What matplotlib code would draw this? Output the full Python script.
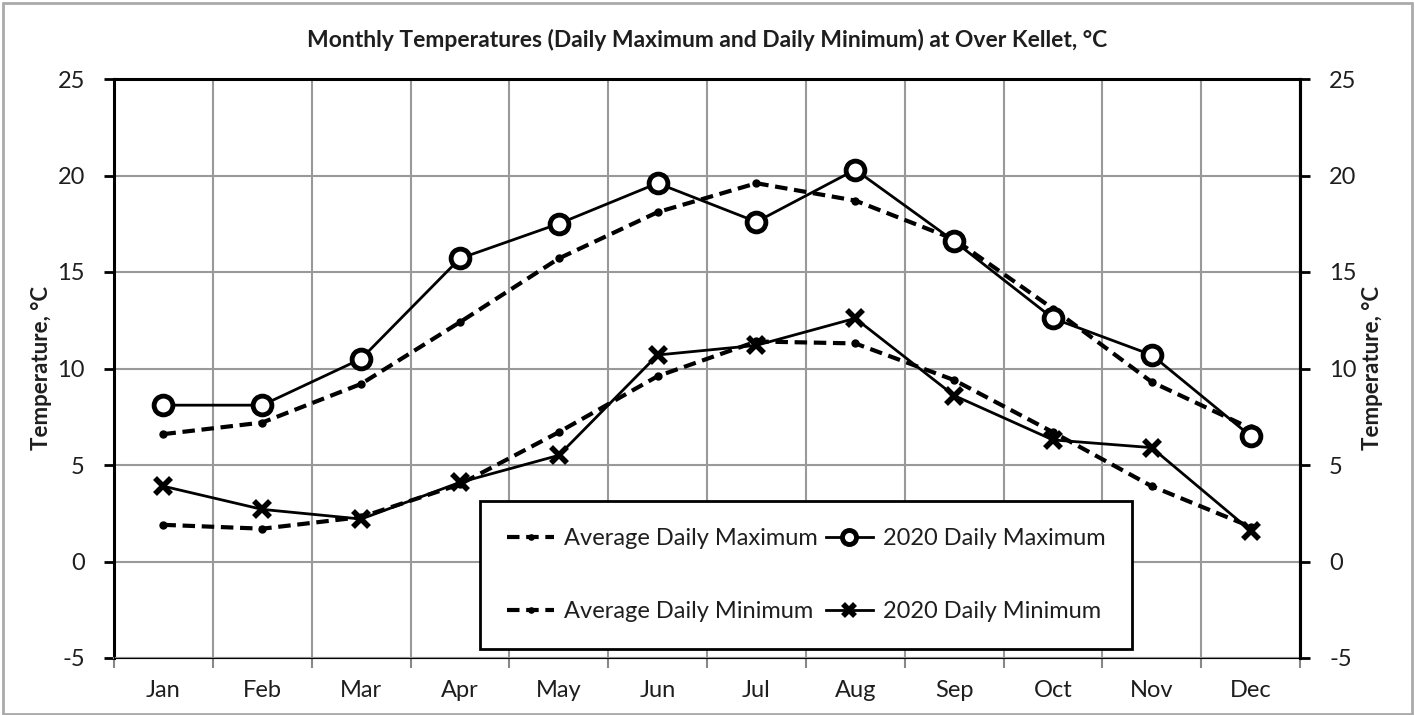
import numpy as np
import matplotlib.pyplot as plt
from matplotlib.patches import Rectangle

months = ['Jan', 'Feb', 'Mar', 'Apr', 'May', 'Jun', 'Jul', 'Aug', 'Sep', 'Oct', 'Nov', 'Dec']
avg_max = [6.6, 7.2, 9.2, 12.4, 15.7, 18.1, 19.6, 18.7, 16.7, 13.1, 9.3, 6.9]
max_2020 = [8.1, 8.1, 10.5, 15.7, 17.5, 19.6, 17.6, 20.3, 16.6, 12.6, 10.7, 6.5]
avg_min = [1.9, 1.7, 2.3, 4.0, 6.7, 9.6, 11.4, 11.3, 9.4, 6.7, 3.9, 1.8]
min_2020 = [3.9, 2.7, 2.2, 4.1, 5.5, 10.7, 11.2, 12.6, 8.6, 6.3, 5.9, 1.6]
y_ticks = [-5, 0, 5, 10, 15, 20, 25]

plt.rcParams['font.family'] = ['Lato', 'DejaVu Sans']
txt = '#1e1e1e'

fig = plt.figure(figsize=(14.15, 7.15), dpi=100)
ax = fig.add_axes([114 / 1415, 1 - 658 / 715, (1300 - 114) / 1415, (658 - 79) / 715])

x = np.arange(len(months))
l_avg_max, = ax.plot(x, avg_max, color='black', lw=3, ls=(0, (3, 1.6)), marker='o', ms=5,
                     label='Average Daily Maximum', zorder=3)
l_max, = ax.plot(x, max_2020, color='black', lw=2, marker='o', ms=13.5, mfc='white', mew=3.5,
                 label='2020 Daily Maximum', zorder=4)
l_avg_min, = ax.plot(x, avg_min, color='black', lw=3, ls=(0, (3, 1.6)), marker='o', ms=5,
                     label='Average Daily Minimum', zorder=3)
l_min, = ax.plot(x, min_2020, color='black', lw=2, marker='x', ms=11, mew=4,
                 label='2020 Daily Minimum', zorder=4)

ax.set_xlim(-0.5, len(months) - 0.5)
ax.set_ylim(-5, 25)
ax.set_xticks(x)
ax.set_xticklabels(months, fontsize=17, color=txt)
ax.set_xticks(np.arange(-0.5, len(months), 1), minor=True)
ax.tick_params(axis='x', which='major', length=0, pad=16)
ax.tick_params(axis='x', which='minor', length=7, width=1.5, color='#888888', direction='out')
ax.set_yticks(y_ticks)
ax.set_yticklabels([str(v) for v in y_ticks], fontsize=17, color=txt)
ax.tick_params(axis='y', length=7, width=2, direction='out', pad=14)
ax.grid(True, which='minor', axis='x', color='#999999', lw=1.5)
ax.grid(True, which='major', axis='y', color='#999999', lw=1.5)
ax.set_axisbelow(True)

for side in ['left', 'right', 'top']:
    ax.spines[side].set_linewidth(2.2)
ax.spines['bottom'].set_color('#999999')
ax.spines['bottom'].set_linewidth(1.5)

ax.set_ylabel('Temperature, °C', fontsize=16, fontweight='bold', color=txt, labelpad=4)

ax2 = ax.twinx()
ax2.set_ylim(-5, 25)
ax2.set_yticks(y_ticks)
ax2.set_yticklabels([str(v) for v in y_ticks], fontsize=17, color=txt)
ax2.tick_params(axis='y', length=7, width=2, direction='out', pad=14)
ax2.spines['right'].set_linewidth(2.2)
ax2.set_ylabel('Temperature, °C', fontsize=16, fontweight='bold', color=txt, rotation=90, labelpad=4)

fig.suptitle('Monthly Temperatures (Daily Maximum and Daily Minimum) at Over Kellet, °C',
             y=1 - 40 / 715, va='center', fontsize=16.5, fontweight='bold', color=txt)

leg = ax.legend(handles=[l_avg_max, l_avg_min, l_max, l_min],
                loc='upper left', bbox_to_anchor=((480 - 114) / (1300 - 114), (658 - 501) / (658 - 79)),
                ncol=2, fontsize=17, frameon=True, fancybox=False,
                edgecolor='black', handlelength=2.0, handletextpad=0.4, columnspacing=0.35,
                labelspacing=2.2, borderpad=1.15, borderaxespad=0, markerscale=0.75)
for t in leg.get_texts():
    t.set_color(txt)
leg.get_frame().set_linewidth(2)
leg.get_frame().set_alpha(1)
leg.set_zorder(10)

fig.patches.append(Rectangle((0.002, 0.002), 0.996, 0.994, transform=fig.transFigure,
                             fill=False, edgecolor='#aaaaaa', lw=2))

fig.savefig('out.png', dpi=100)
